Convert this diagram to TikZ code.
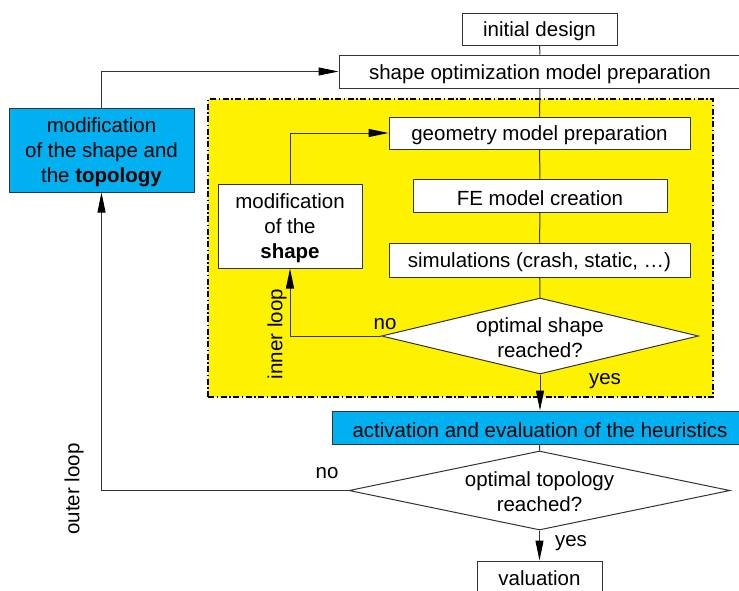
\documentclass[tikz,border=0pt]{standalone}
\usepackage{fontspec}
\setmainfont{Liberation Sans}
\usetikzlibrary{arrows.meta,shapes.geometric}
\definecolor{flowblue}{HTML}{00B0F0}
\definecolor{lineg}{HTML}{333333}
\begin{document}
\begin{tikzpicture}[x=1pt,y=-1pt,
  font=\fontsize{20.5}{25}\selectfont,
  box/.style={draw=lineg, line width=1pt, fill=white, rectangle, inner sep=0pt},
  bluebox/.style={box, fill=flowblue},
  txt/.style={inner sep=0pt, align=center, yshift=-2.5pt},
  dtxt/.style={inner sep=0pt, align=center, yshift=-1.5pt},
  dia/.style={draw=lineg, line width=1pt, fill=white, diamond, inner sep=0pt},
  conn/.style={draw=lineg, line width=1pt},
  arr/.style={conn, -{Triangle[length=20pt,width=8pt,color=black,fill=black]}},
  yellowbox/.style={draw=black, fill=yellow, line width=1.5pt, dash pattern=on 6pt off 2.5pt on 1.5pt off 2.5pt, inner sep=0pt},
  lbl/.style={inner sep=0pt}
]
\path[use as bounding box, clip] (0,0) rectangle (739,590);
\fill[white] (0,0) rectangle (739,590);

\node[yellowbox, minimum width=505pt, minimum height=298pt] (loop) at (460.5,248) {};

\node[box, minimum width=155pt, minimum height=32pt, label={[txt]center:initial design}] (init) at (539.5,29) {};
\node[box, minimum width=402pt, minimum height=33pt, label={[txt]center:shape optimization model preparation}] (shapeopt) at (540,71.5) {};
\node[box, minimum width=301pt, minimum height=32pt, label={[txt]center:geometry model preparation}] (geom) at (539.5,133) {};
\node[box, minimum width=254pt, minimum height=33pt, label={[txt]center:FE model creation}] (fe) at (540,195.5) {};
\node[box, minimum width=301pt, minimum height=34pt, label={[txt]center:simulations (crash, static, …)}] (sim) at (539.5,260) {};
\node[dia, minimum width=317pt, minimum height=76pt,
  label={[dtxt]center:optimal shape\\reached?}] (d1) at (540,336) {};
\node[box, minimum width=144pt, minimum height=84pt, label={[txt]center:modification\\of the\\\textbf{shape}}] (modshape) at (290,226) {};
\node[bluebox, minimum width=185pt, minimum height=84pt, label={[txt]center:modification\\of the shape and\\the \textbf{topology}}] (modtopo) at (101.5,150) {};
\node[bluebox, minimum width=416pt, minimum height=33pt, label={[txt]center:activation and evaluation of the heuristics}] (act) at (540,427.5) {};
\node[dia, minimum width=381pt, minimum height=79pt,
  label={[dtxt]center:optimal topology\\reached?}] (d2) at (539.5,490.5) {};
\node[box, minimum width=125pt, minimum height=34pt, label={[txt, yshift=2pt]center:valuation}] (val) at (539.5,578) {};

\draw[conn] (init) -- (shapeopt);
\draw[conn] (shapeopt) -- (geom);
\draw[conn] (geom) -- (fe);
\draw[conn] (fe) -- (sim);
\draw[conn] (sim) -- (d1.north);
\draw[arr] (d1.south) -- (act);
\draw[conn] (act) -- (d2.north);
\draw[arr] (d2.south) -- (val);
\draw[arr] (d1.west) -| (modshape.south);
\draw[arr] (modshape.north) |- (geom.west);
\draw[arr] (d2.west) -| (modtopo.south);
\draw[arr] (modtopo.north) |- (shapeopt.west);

\node[lbl] (no1) at (385,324) {no};
\node[lbl] (yes1) at (605,381) {yes};
\node[lbl] (no2) at (327,473) {no};
\node[lbl] (yes2) at (571,543) {yes};
\node[lbl, rotate=90] (inner) at (277,334) {inner loop};
\node[lbl, rotate=90] (outer) at (74,489) {outer loop};
\end{tikzpicture}
\end{document}
